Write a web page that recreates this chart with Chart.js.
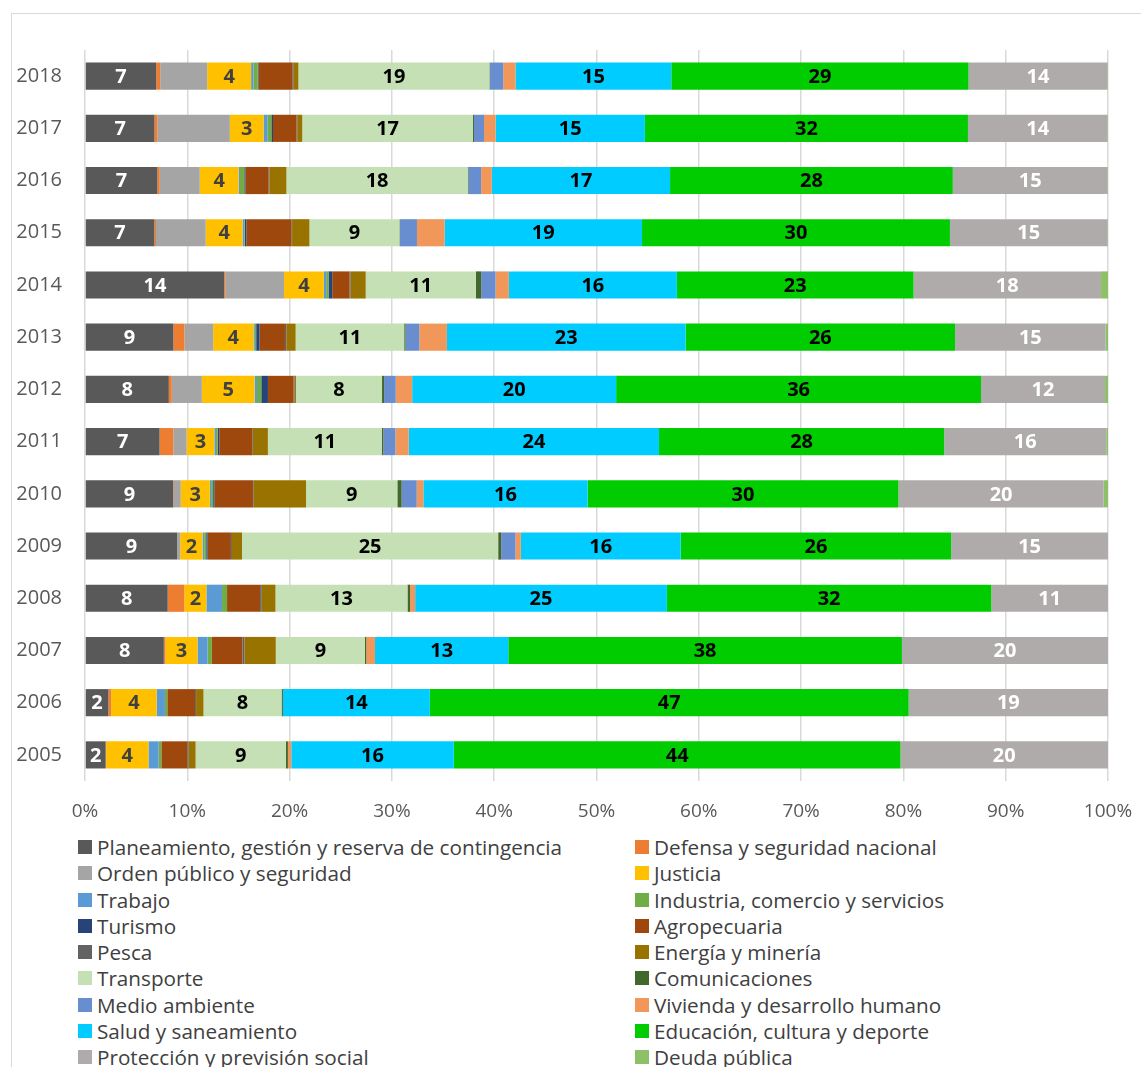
<!DOCTYPE html>
<html>
<head>
<meta charset="utf-8">
<script src="https://cdn.jsdelivr.net/npm/chart.js@4.4.1/dist/chart.umd.min.js"></script>
<style>
  html, body { margin:0; padding:0; background:#fff; }
  #wrap { position:relative; width:1141px; height:1067px; overflow:hidden; background:#fff; font-family:"Open Sans", sans-serif; }
  #frame { position:absolute; left:11px; top:13px; width:1300px; height:1200px; border-left:1.5px solid #D9D9D9; border-top:1.5px solid #D9D9D9; }
  #chartBox { position:absolute; left:0; top:0; width:1141px; height:830px; }
  .lg { position:absolute; height:26px; line-height:26px; font-size:20.7px; color:#404040; white-space:nowrap; }
  .lg .box { position:absolute; left:0; top:6px; width:14px; height:14px; }
  .lg .txt { position:absolute; left:19px; top:0; }
</style>
</head>
<body>
<div id="wrap">
  <div id="frame"></div>
  <div id="chartBox"><canvas id="c" width="1141" height="830"></canvas></div>
  <div id="legend"></div>
</div>
<script>
// Years, top to bottom
const years = ['2018','2017','2016','2015','2014','2013','2012','2011','2010','2009','2008','2007','2006','2005'];

// Series (share of total, %), same order as years
const planeamiento   = [6.97, 6.8, 7.07, 6.78, 13.6, 8.63, 8.18, 7.27, 8.6, 9.0, 8.08, 7.69, 2.28, 2.02];
const defensa        = [0.39, 0.3, 0.23, 0.16, 0.13, 1.08, 0.29, 1.34, 0.05, 0, 1.63, 0.16, 0.26, 0.05];
const ordenPublico   = [4.6, 7.07, 3.9, 4.86, 5.7, 2.8, 2.93, 1.3, 0.68, 0.29, 0, 0, 0, 0];
const justicia       = [4.3, 3.3, 3.8, 3.6, 3.88, 3.94, 5.15, 2.7, 2.83, 2.18, 2.15, 3.13, 4.43, 4.14];
const trabajo        = [0.23, 0.36, 0.13, 0.16, 0.23, 0.13, 0.23, 0.16, 0.13, 0.16, 1.53, 0.98, 0.81, 1.0];
const industria      = [0.42, 0.4, 0.42, 0.05, 0.23, 0.13, 0.42, 0.16, 0.2, 0.2, 0.49, 0.42, 0.23, 0.26];
const turismo        = [0.07, 0.16, 0.1, 0.16, 0.36, 0.33, 0.65, 0.16, 0.13, 0.13, 0, 0, 0, 0];
const agropecuaria   = [3.35, 2.3, 2.28, 4.4, 1.7, 2.48, 2.5, 3.2, 3.75, 2.28, 3.23, 2.97, 2.7, 2.54];
const pesca          = [0.1, 0.07, 0.07, 0.07, 0.1, 0.13, 0.1, 0.07, 0.07, 0.1, 0.16, 0.2, 0.1, 0.13];
const energia        = [0.46, 0.49, 1.66, 1.7, 1.47, 0.91, 0.13, 1.47, 5.1, 0.98, 1.34, 3.06, 0.72, 0.68];
const transporte     = [18.7, 16.7, 17.7, 8.8, 10.75, 10.6, 8.4, 11.1, 8.9, 25.0, 12.9, 8.7, 7.6, 8.83];
const comunicaciones = [0.05, 0.1, 0.07, 0.05, 0.52, 0.13, 0.2, 0.16, 0.42, 0.29, 0.26, 0.13, 0.13, 0.2];
const medioAmbiente  = [1.3, 0.98, 1.24, 1.66, 1.4, 1.34, 1.14, 1.17, 1.47, 1.4, 0, 0, 0, 0];
const vivienda       = [1.2, 1.14, 1.04, 2.7, 1.3, 2.7, 1.6, 1.3, 0.65, 0.52, 0.49, 0.85, 0, 0.33];
const salud          = [15.25, 14.6, 17.4, 19.3, 16.4, 23.3, 19.9, 24.4, 16.0, 15.6, 24.6, 13.0, 14.3, 15.9];
const educacion      = [29.1, 31.6, 27.6, 30.1, 23.1, 26.3, 35.6, 27.8, 30.3, 26.4, 31.7, 38.4, 46.6, 43.7];
const proteccion     = [13.6, 13.65, 15.1, 15.4, 18.3, 14.7, 12.1, 15.8, 20.0, 15.3, 11.4, 20.1, 19.4, 20.3];
const deuda          = [0.05, 0.05, 0.05, 0.05, 0.68, 0.23, 0.29, 0.17, 0.42, 0, 0, 0, 0, 0];

const seriesNames = [
  'Planeamiento, gestión y reserva de contingencia','Defensa y seguridad nacional',
  'Orden público y seguridad','Justicia',
  'Trabajo','Industria, comercio y servicios',
  'Turismo','Agropecuaria',
  'Pesca','Energía y minería',
  'Transporte','Comunicaciones',
  'Medio ambiente','Vivienda y desarrollo humano',
  'Salud y saneamiento','Educación, cultura y deporte',
  'Protección y previsión social','Deuda pública'
];
const seriesValues = [planeamiento, defensa, ordenPublico, justicia, trabajo, industria, turismo,
  agropecuaria, pesca, energia, transporte, comunicaciones, medioAmbiente, vivienda, salud,
  educacion, proteccion, deuda];
const seriesColors = ['#595959','#ED7D31','#A5A5A5','#FFC000','#5B9BD5','#70AD47','#264478',
  '#9E480E','#636363','#997300','#C5E0B4','#43682B','#698ED0','#F1975A','#00CCFF','#00CC00',
  '#AFABAB','#8CC168'];
// colour of the value labels (null = no label)
const labelColors = ['#FFFFFF',null,null,'#404040',null,null,null,null,null,null,'#000000',null,
  null,null,'#000000','#000000','#FFFFFF',null];

// 100% stacked: normalise each year
const totals = years.map((_, j) => seriesValues.reduce((s, arr) => s + arr[j], 0));
const datasets = seriesNames.map((name, i) => ({
  label: name,
  data: seriesValues[i].map((v, j) => v / totals[j] * 100),
  backgroundColor: seriesColors[i],
  borderWidth: 0,
  labelColor: labelColors[i],
  barPercentage: 0.52,
  categoryPercentage: 1.0
}));

const segLabels = {
  id: 'segLabels',
  afterDatasetsDraw(chart) {
    const ctx = chart.ctx;
    chart.data.datasets.forEach((ds, i) => {
      if (!ds.labelColor) return;
      const meta = chart.getDatasetMeta(i);
      meta.data.forEach((bar, j) => {
        const v = ds.data[j];
        if (!v) return;
        const p = bar.getProps(['x', 'base', 'y'], true);
        ctx.save();
        ctx.font = 'bold 20px "Open Sans"';
        ctx.fillStyle = ds.labelColor;
        ctx.textAlign = 'center';
        ctx.textBaseline = 'middle';
        ctx.fillText(String(Math.round(v)), (p.x + p.base) / 2, p.y + 1);
        ctx.restore();
      });
    });
  }
};

const chart = new Chart(document.getElementById('c'), {
  type: 'bar',
  data: { labels: years, datasets },
  options: {
    indexAxis: 'y',
    responsive: false,
    animation: false,
    layout: { padding: { left: 0, right: 33, top: 50, bottom: 0 } },
    plugins: { legend: { display: false }, tooltip: { enabled: false } },
    scales: {
      x: {
        stacked: true, min: 0, max: 100,
        border: { display: false },
        grid: { color: '#D9D9D9', lineWidth: 1.5, drawTicks: false },
        ticks: { stepSize: 10, padding: 19, color: '#595959',
          font: { family: '"Open Sans"', size: 19 },
          callback: v => v + '%' },
        afterFit: s => { s.height = 49; s.paddingLeft = 0; s.paddingRight = 0; }
      },
      y: {
        stacked: true,
        border: { display: false },
        grid: { display: false, drawTicks: false },
        ticks: { padding: 23, color: '#595959', font: { family: '"Open Sans"', size: 20 } },
        afterFit: s => { s.width = 85; s.paddingTop = 0; s.paddingBottom = 0; }
      }
    }
  },
  plugins: [segLabels]
});

// legend in two columns, built from the chart's datasets
const lg = document.getElementById('legend');
chart.data.datasets.forEach((ds, i) => {
  const col = i % 2, row = Math.floor(i / 2);
  const d = document.createElement('div');
  d.className = 'lg';
  d.style.left = (col === 0 ? 78 : 635) + 'px';
  d.style.top = (834 + row * 26.25) + 'px';
  d.innerHTML = '<span class="box" style="background:' + ds.backgroundColor + '"></span><span class="txt"></span>';
  d.querySelector('.txt').textContent = ds.label;
  lg.appendChild(d);
});
</script>
</body>
</html>
